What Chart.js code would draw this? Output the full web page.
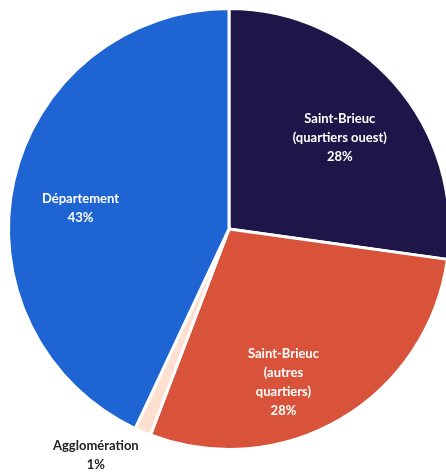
<!DOCTYPE html>
<html>
<head>
<meta charset="utf-8">
<script src="https://cdn.jsdelivr.net/npm/chart.js@4.4.0/dist/chart.umd.min.js"></script>
<style>
html,body{margin:0;padding:0;background:#fff;width:446px;height:474px;overflow:hidden;}
#wrap{position:absolute;left:0;top:0;width:458px;height:474px;}
</style>
</head>
<body>
<div id="wrap"><canvas id="c" width="458" height="474"></canvas></div>
<script>
const categories = [
  ["Saint-Brieuc", "(quartiers ouest)"],
  ["Saint-Brieuc", "(autres", "quartiers)"],
  ["Agglomération"],
  ["Département"]
];
const values = [27.2, 28.6, 1.2, 43.0];
const percentLabels = ["28%", "28%", "1%", "43%"];
const colors = ["#1e1648", "#d9533a", "#fde0cf", "#1f64d3"];
const labelColors = ["#ffffff", "#ffffff", "#222222", "#ffffff"];
// label placement: angle (deg clockwise from top) and fraction of radius
const labelPlace = [
  {a: 50.6, r: 0.65},
  {a: 160.5, r: 0.74},
  {a: 210.5, r: 1.19},
  {a: 278, r: 0.68}
];

const labelPlugin = {
  id: 'sliceLabels',
  afterDatasetsDraw(chart) {
    const ctx = chart.ctx;
    const meta = chart.getDatasetMeta(0);
    ctx.save();
    ctx.font = 'bold 13px Lato, "Open Sans", sans-serif';
    ctx.textAlign = 'center';
    ctx.textBaseline = 'middle';
    meta.data.forEach((arc, i) => {
      const p = labelPlace[i];
      const ang = (p.a - 90) * Math.PI / 180;
      const cx = arc.x + Math.cos(ang) * arc.outerRadius * p.r;
      const cy = arc.y + Math.sin(ang) * arc.outerRadius * p.r;
      const lines = categories[i].concat([percentLabels[i]]);
      const lh = 19;
      const y0 = cy - (lines.length - 1) * lh / 2;
      ctx.fillStyle = labelColors[i];
      lines.forEach((t, k) => ctx.fillText(t, cx, y0 + k * lh));
    });
    ctx.restore();
  }
};

new Chart(document.getElementById('c'), {
  type: 'pie',
  data: {
    labels: categories.map(c => c.join(' ')),
    datasets: [{
      data: values,
      backgroundColor: colors,
      borderColor: '#ffffff',
      borderWidth: 3
    }]
  },
  options: {
    responsive: false,
    animation: false,
    layout: {padding: {top: 7, left: 7, right: 7, bottom: 23}},
    plugins: {legend: {display: false}, tooltip: {enabled: false}}
  },
  plugins: [labelPlugin]
});
</script>
</body>
</html>
